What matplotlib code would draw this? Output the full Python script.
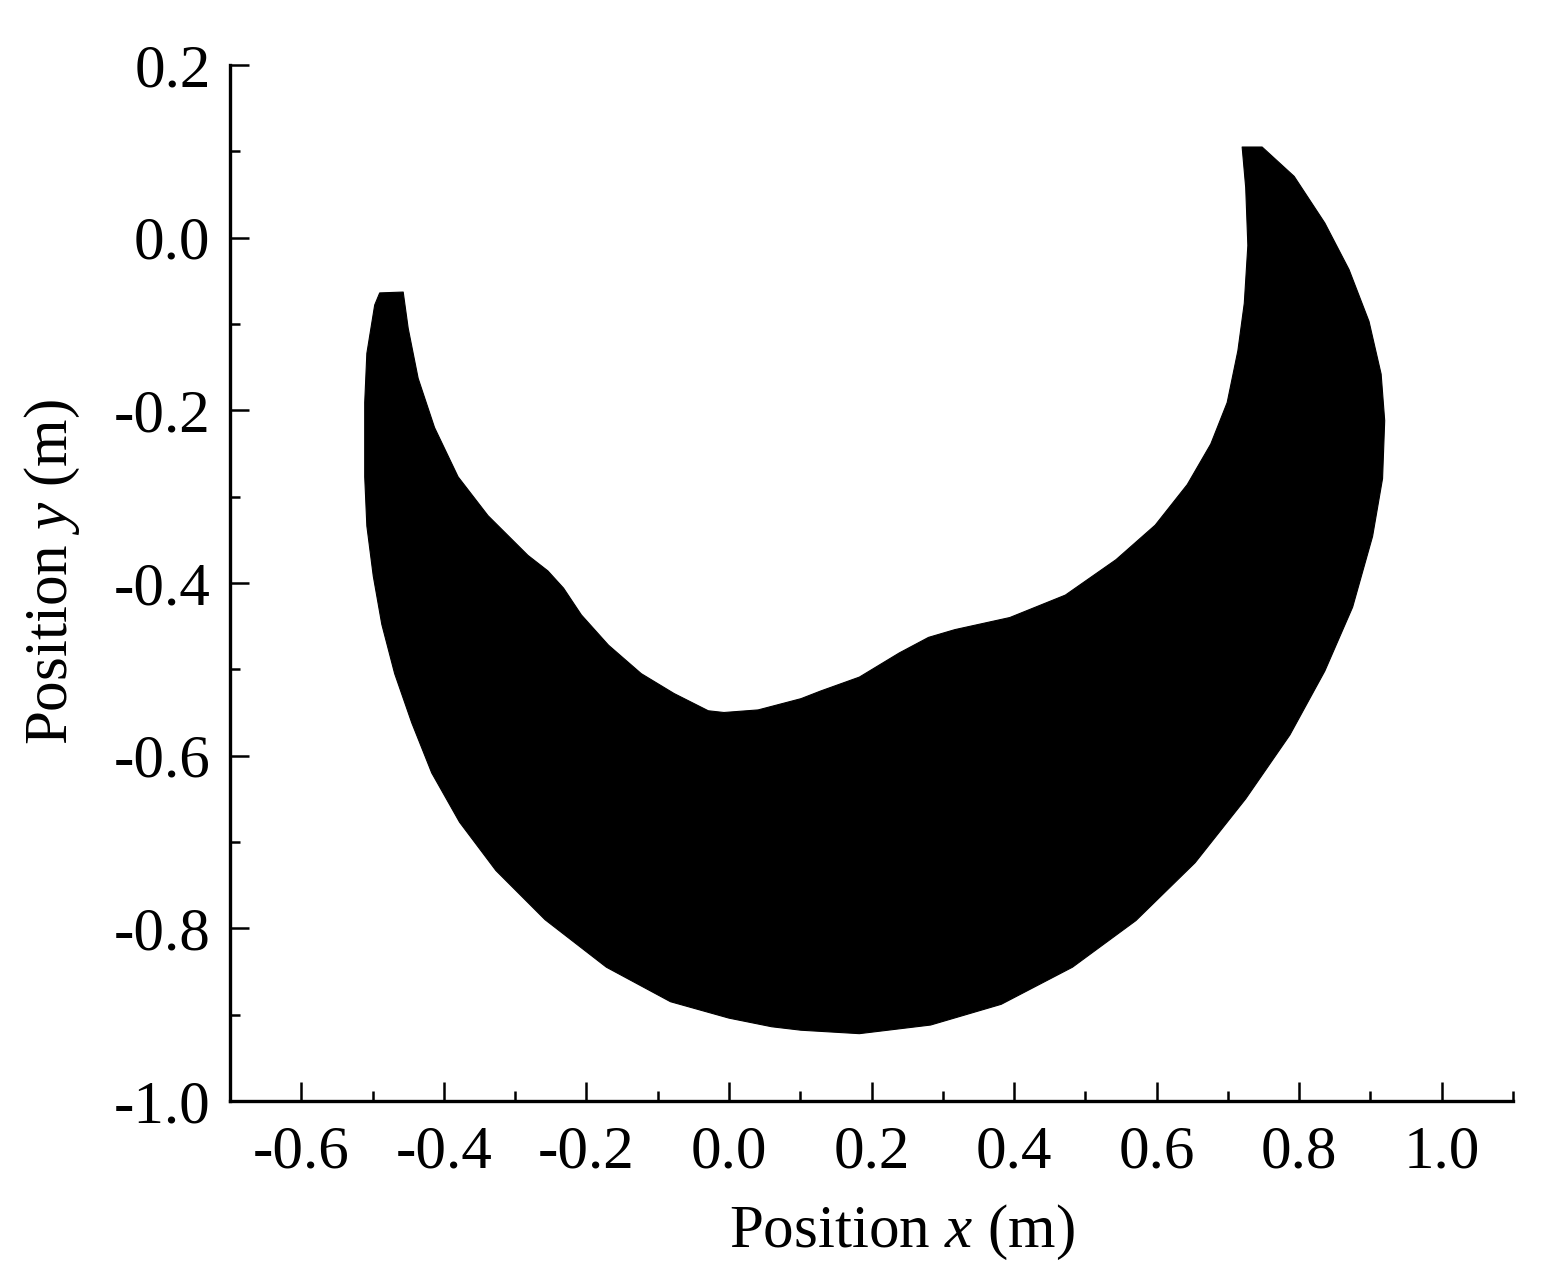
import numpy as np
import matplotlib
matplotlib.use("Agg")
import matplotlib.pyplot as plt
from matplotlib.ticker import MultipleLocator, FormatStrFormatter

# outer boundary of the reachable region, from the left tip round the bottom to the right tip
outer_x = [-0.490, -0.497, -0.508, -0.511, -0.511, -0.508, -0.499, -0.487,
           -0.469, -0.445, -0.417, -0.378, -0.327, -0.258, -0.172, -0.082,
           0.000, 0.060, 0.101, 0.183, 0.283, 0.382, 0.482, 0.571, 0.654,
           0.725, 0.787, 0.836, 0.875, 0.903, 0.917, 0.920, 0.915, 0.898,
           0.870, 0.836, 0.793, 0.748, 0.720]
outer_y = [-0.064, -0.078, -0.134, -0.191, -0.277, -0.334, -0.392, -0.448,
           -0.505, -0.562, -0.620, -0.677, -0.733, -0.790, -0.845, -0.885,
           -0.904, -0.914, -0.918, -0.922, -0.912, -0.888, -0.845, -0.791,
           -0.724, -0.650, -0.576, -0.502, -0.428, -0.346, -0.279, -0.212,
           -0.158, -0.097, -0.037, 0.017, 0.071, 0.105, 0.105]

# inner boundary, from the right tip back to the left tip
inner_x = [0.725, 0.728, 0.723, 0.714, 0.699, 0.676, 0.643, 0.598, 0.543,
           0.472, 0.394, 0.317, 0.280, 0.239, 0.183, 0.129, 0.101, 0.041,
           -0.007, -0.029, -0.077, -0.123, -0.169, -0.207, -0.232, -0.254,
           -0.282, -0.338, -0.380, -0.413, -0.436, -0.450, -0.457]
inner_y = [0.058, -0.009, -0.076, -0.131, -0.191, -0.239, -0.286, -0.333,
           -0.373, -0.414, -0.440, -0.454, -0.463, -0.481, -0.509, -0.525,
           -0.534, -0.547, -0.550, -0.548, -0.528, -0.505, -0.472, -0.437,
           -0.406, -0.386, -0.368, -0.322, -0.277, -0.220, -0.163, -0.105,
           -0.063]

plt.rcParams['font.family'] = ['Liberation Serif', 'DejaVu Serif']
plt.rcParams['mathtext.fontset'] = 'custom'
plt.rcParams['mathtext.it'] = 'Liberation Serif:italic'
plt.rcParams['mathtext.rm'] = 'Liberation Serif'

fig = plt.figure(figsize=(15.43, 12.79), dpi=100)
ax = fig.add_axes([230 / 1543, 1 - 1101 / 1279, 1283 / 1543, 1036 / 1279])

ax.fill(outer_x + inner_x, outer_y + inner_y, color='black', lw=0.8,
        joinstyle='round')

ax.set_xlim(-0.7, 1.1)
ax.set_ylim(-1.0, 0.2)
ax.xaxis.set_major_locator(MultipleLocator(0.2))
ax.xaxis.set_minor_locator(MultipleLocator(0.1))
ax.yaxis.set_major_locator(MultipleLocator(0.2))
ax.yaxis.set_minor_locator(MultipleLocator(0.1))
ax.xaxis.set_major_formatter(FormatStrFormatter('%.1f'))
ax.yaxis.set_major_formatter(FormatStrFormatter('%.1f'))

for s in ['top', 'right']:
    ax.spines[s].set_visible(False)
for s in ['left', 'bottom']:
    ax.spines[s].set_linewidth(2.4)

ax.tick_params(which='major', direction='in', length=14, width=1.8,
               labelsize=44)
ax.tick_params(which='minor', direction='in', length=7, width=1.8)
ax.tick_params(axis='x', which='major', pad=17)
ax.tick_params(axis='y', which='major', pad=14)

ax.set_xlabel(r'Position $x$ (m)', fontsize=44)
ax.set_ylabel(r'Position $y$ (m)', fontsize=44)
ax.xaxis.set_label_coords(0.524, -0.098)
ax.yaxis.set_label_coords(-0.115, 0.51)

fig.savefig('out.png', dpi=100)
